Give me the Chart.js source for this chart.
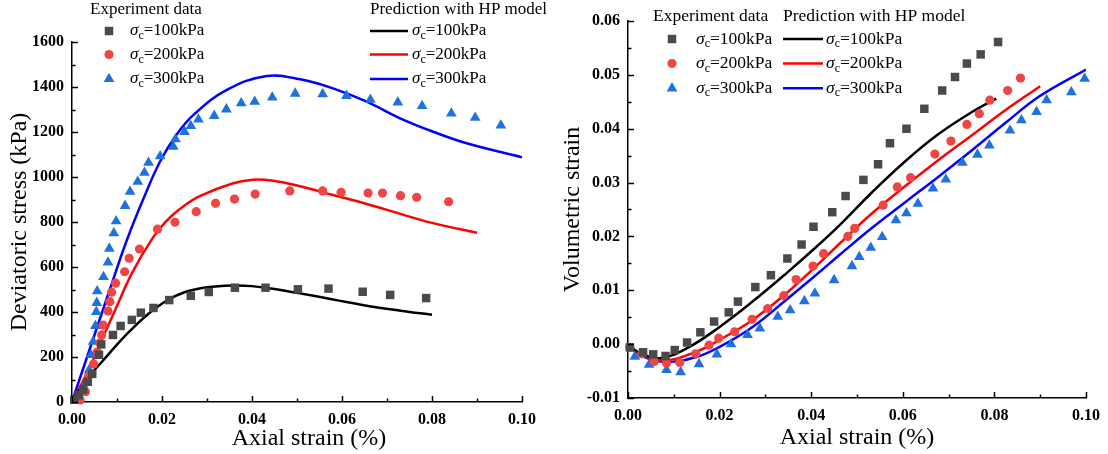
<!DOCTYPE html>
<html>
<head>
<meta charset="utf-8">
<script src="https://cdn.jsdelivr.net/npm/chart.js@4.4.1/dist/chart.umd.min.js"></script>
<style>
  body { margin: 0; background: #fff; width: 1108px; height: 454px; overflow: hidden; position: relative; }
  canvas { position: absolute; top: 0; }
  #stressChart { left: 0; }
  #volChart { left: 556px; }
</style>
</head>
<body>
<canvas id="stressChart" width="556" height="454"></canvas>
<canvas id="volChart" width="552" height="454"></canvas>
<script>
// ---- data ----
var pressures = ['100kPa', '200kPa', '300kPa'];

var strainTicks = [0, 0.02, 0.04, 0.06, 0.08, 0.10];
var strainTickLabels = ['0.00', '0.02', '0.04', '0.06', '0.08', '0.10'];
var stressTicks = [0, 200, 400, 600, 800, 1000, 1200, 1400, 1600];
var stressTickLabels = ['0', '200', '400', '600', '800', '1000', '1200', '1400', '1600'];
var volTicks = [-0.01, 0, 0.01, 0.02, 0.03, 0.04, 0.05, 0.06];
var volTickLabels = ['-0.01', '0.00', '0.01', '0.02', '0.03', '0.04', '0.05', '0.06'];

// deviatoric stress, experiment
var devStrain100 = [0.0005, 0.0015, 0.0025, 0.0035, 0.0045, 0.0060, 0.0065, 0.0091, 0.0108, 0.0133, 0.0153, 0.0181, 0.0216, 0.0264, 0.0304, 0.0362, 0.0430, 0.0502, 0.0570, 0.0646, 0.0707, 0.0787];
var devStress100 = [10, 30, 55, 90, 125, 210, 256, 298, 338, 365, 397, 418, 453, 472, 489, 508, 508, 501, 504, 490, 476, 462];
var devStrain200 = [0.0018, 0.0030, 0.0037, 0.0048, 0.0056, 0.0062, 0.0066, 0.0069, 0.0080, 0.0084, 0.0088, 0.0097, 0.0117, 0.0127, 0.0150, 0.0190, 0.0229, 0.0276, 0.0319, 0.0361, 0.0407, 0.0484, 0.0557, 0.0598, 0.0658, 0.0690, 0.0730, 0.0766, 0.0837];
var devStress200 = [9, 46, 116, 169, 222, 262, 298, 342, 404, 446, 488, 528, 579, 639, 680, 768, 799, 846, 883, 902, 924, 938, 938, 932, 929, 929, 917, 910, 890];
var devStrain300 = [0.0011, 0.0024, 0.0031, 0.0038, 0.0042, 0.0047, 0.0052, 0.0054, 0.0055, 0.0056, 0.0070, 0.0080, 0.0083, 0.0093, 0.0098, 0.0118, 0.0129, 0.0146, 0.0161, 0.0170, 0.0196, 0.0225, 0.0230, 0.0250, 0.0264, 0.0281, 0.0316, 0.0343, 0.0376, 0.0406, 0.0445, 0.0496, 0.0557, 0.0610, 0.0663, 0.0724, 0.0778, 0.0843, 0.0896, 0.0953];
var devStress300 = [6, 46, 86, 142, 209, 268, 338, 401, 441, 493, 556, 620, 682, 750, 804, 872, 935, 979, 1019, 1064, 1093, 1135, 1168, 1201, 1227, 1256, 1272, 1301, 1328, 1335, 1354, 1371, 1368, 1361, 1344, 1332, 1316, 1283, 1264, 1229];

// deviatoric stress, HP model
var predStrain100 = [0, 0.002, 0.004, 0.0067, 0.010, 0.013, 0.017, 0.021, 0.025, 0.030, 0.0358, 0.040, 0.045, 0.050, 0.058, 0.0655, 0.073, 0.080];
var predStress100 = [0, 65, 120, 180, 255, 318, 392, 450, 488, 510, 518, 515, 502, 485, 456, 428, 406, 388];
var predStrain200 = [0, 0.002, 0.0044, 0.0067, 0.0096, 0.0133, 0.0178, 0.021, 0.025, 0.0284, 0.0358, 0.0403, 0.045, 0.050, 0.058, 0.0655, 0.073, 0.080, 0.090];
var predStress200 = [0, 75, 175, 280, 409, 572, 725, 805, 873, 915, 972, 988, 982, 962, 920, 880, 836, 796, 752];
var predStrain300 = [0, 0.002, 0.0047, 0.0084, 0.0122, 0.0158, 0.0196, 0.0233, 0.027, 0.0344, 0.0433, 0.0507, 0.058, 0.0655, 0.0729, 0.0803, 0.0877, 0.100];
var predStress300 = [0, 120, 280, 500, 720, 900, 1070, 1190, 1276, 1387, 1449, 1434, 1394, 1335, 1261, 1201, 1150, 1088];

// volumetric strain, experiment
var volStrain100 = [0.0004, 0.0033, 0.0055, 0.0082, 0.0102, 0.0129, 0.0158, 0.0188, 0.0220, 0.0240, 0.0278, 0.0312, 0.0348, 0.0379, 0.0405, 0.0446, 0.0475, 0.0514, 0.0546, 0.0572, 0.0608, 0.0647, 0.0686, 0.0714, 0.0740, 0.0770, 0.0808];
var volValue100 = [-0.0006, -0.0015, -0.0019, -0.0022, -0.0011, 0.0003, 0.0022, 0.0042, 0.0059, 0.0079, 0.0106, 0.0128, 0.0159, 0.0185, 0.0218, 0.0245, 0.0275, 0.0305, 0.0334, 0.0373, 0.0400, 0.0437, 0.0471, 0.0496, 0.0521, 0.0538, 0.0561];
var volStrain200 = [0.0004, 0.0030, 0.0057, 0.0084, 0.0113, 0.0148, 0.0177, 0.0198, 0.0233, 0.0271, 0.0305, 0.0340, 0.0367, 0.0404, 0.0427, 0.0480, 0.0495, 0.0557, 0.0588, 0.0617, 0.0670, 0.0705, 0.0740, 0.0767, 0.0790, 0.0829, 0.0857];
var volValue200 = [-0.0006, -0.0018, -0.0032, -0.0035, -0.0034, -0.0018, -0.0002, 0.0011, 0.0023, 0.0046, 0.0066, 0.0090, 0.0120, 0.0145, 0.0168, 0.0200, 0.0215, 0.0258, 0.0292, 0.0309, 0.0353, 0.0377, 0.0408, 0.0428, 0.0453, 0.0471, 0.0494];
var volStrain300 = [0.0015, 0.0046, 0.0084, 0.0115, 0.0155, 0.0194, 0.0225, 0.0261, 0.0288, 0.0327, 0.0354, 0.0385, 0.0408, 0.0450, 0.0489, 0.0505, 0.0530, 0.0555, 0.0585, 0.0608, 0.0633, 0.0666, 0.0694, 0.0730, 0.0763, 0.0789, 0.0834, 0.0859, 0.0892, 0.0914, 0.0968, 0.0997];
var volValue300 = [-0.0023, -0.0038, -0.0048, -0.0052, -0.0037, -0.0019, 0.0000, 0.0017, 0.0029, 0.0051, 0.0063, 0.0080, 0.0094, 0.0119, 0.0145, 0.0162, 0.0179, 0.0199, 0.0230, 0.0243, 0.0261, 0.0289, 0.0306, 0.0337, 0.0352, 0.0369, 0.0397, 0.0416, 0.0431, 0.0453, 0.0468, 0.0493];

// volumetric strain, HP model
var predVolStrain100 = [0, 0.003, 0.007, 0.0128, 0.020, 0.0272, 0.0345, 0.0417, 0.0461, 0.0533, 0.0606, 0.0678, 0.0751, 0.0804];
var predVol100 = [-0.0002, -0.0018, -0.0026, -0.0008, 0.0032, 0.0079, 0.0131, 0.0185, 0.0220, 0.0282, 0.0340, 0.0390, 0.0431, 0.0456];
var predVolStrain200 = [0, 0.003, 0.0084, 0.0149, 0.020, 0.0272, 0.0345, 0.0417, 0.0461, 0.0533, 0.0606, 0.0678, 0.0751, 0.0823, 0.090];
var predVol200 = [-0.0003, -0.0021, -0.0030, -0.0014, 0.0008, 0.0045, 0.0094, 0.0150, 0.0186, 0.0243, 0.0294, 0.0342, 0.0388, 0.0434, 0.0479];
var predVolStrain300 = [0, 0.003, 0.0084, 0.0149, 0.020, 0.0272, 0.0345, 0.0417, 0.0461, 0.0533, 0.0606, 0.0678, 0.0751, 0.0823, 0.0896, 0.100];
var predVol300 = [-0.0003, -0.0022, -0.0033, -0.0024, -0.0005, 0.0032, 0.0082, 0.0133, 0.0165, 0.0216, 0.0264, 0.0311, 0.0360, 0.0410, 0.0459, 0.0510];

// ---- styling ----
var SERIF = '"Liberation Serif", "Times New Roman", serif';
var markerColors = ['#4a4a4a', '#ef4545', '#1f72dd'];
var markerStyles = ['rect', 'circle', 'triangle'];
var markerRadius = [6, 4.6, 6.2];
var lineColors = ['#000000', '#ff0000', '#0000ff'];

function toPoints(xs, ys) {
  return xs.map(function(x, i) { return {x: x, y: ys[i]}; });
}

function markerSet(xs, ys, i) {
  return {
    data: toPoints(xs, ys),
    showLine: false,
    pointStyle: markerStyles[i],
    pointRadius: markerRadius[i],
    pointBackgroundColor: markerColors[i],
    pointBorderColor: markerColors[i],
    pointBorderWidth: 0,
    clip: false
  };
}

function lineSet(xs, ys, i) {
  return {
    data: toPoints(xs, ys),
    showLine: true,
    borderColor: lineColors[i],
    borderWidth: 2.5,
    pointRadius: 0,
    tension: 0.4,
    fill: false
  };
}

function drawMarker(ctx, style, r, x, y, color) {
  ctx.fillStyle = color;
  ctx.beginPath();
  if (style === 'rect') {
    var s = Math.SQRT1_2 * r;
    ctx.rect(x - s, y - s, 2 * s, 2 * s);
  } else if (style === 'circle') {
    ctx.arc(x, y, r, 0, Math.PI * 2);
  } else {
    ctx.moveTo(x, y - r);
    ctx.lineTo(x + r * Math.sin(2 * Math.PI / 3), y - r * Math.cos(2 * Math.PI / 3));
    ctx.lineTo(x + r * Math.sin(4 * Math.PI / 3), y - r * Math.cos(4 * Math.PI / 3));
    ctx.closePath();
  }
  ctx.fill();
}

function drawSigma(ctx, x, y, rest, size) {
  ctx.textAlign = 'left';
  ctx.textBaseline = 'middle';
  ctx.fillStyle = '#000';
  ctx.font = 'italic ' + size + 'px ' + SERIF;
  ctx.fillText('σ', x, y);
  x += ctx.measureText('σ').width;
  ctx.font = Math.round(size * 0.7) + 'px ' + SERIF;
  ctx.fillText('c', x, y + 5);
  x += ctx.measureText('c').width;
  ctx.font = size + 'px ' + SERIF;
  ctx.fillText('=' + rest, x, y);
}

// two-column legend: experiment markers and model lines
var pairLegend = {
  id: 'pairLegend',
  afterDraw: function(chart, args, o) {
    var ctx = chart.ctx;
    ctx.save();
    ctx.fillStyle = '#000';
    ctx.font = o.size + 'px ' + SERIF;
    ctx.textBaseline = 'middle';
    ctx.textAlign = 'left';
    ctx.fillText('Experiment data', o.expX, o.headY);
    ctx.fillText('Prediction with HP model', o.predX, o.headY);
    pressures.forEach(function(p, i) {
      var y = o.rows[i];
      drawMarker(ctx, markerStyles[i], markerRadius[i], o.markX, y, markerColors[i]);
      drawSigma(ctx, o.expTextX, y, p, o.size);
      ctx.strokeStyle = lineColors[i];
      ctx.lineWidth = 2.5;
      ctx.beginPath();
      ctx.moveTo(o.predX, y);
      ctx.lineTo(o.lineEnd, y);
      ctx.stroke();
      drawSigma(ctx, o.predTextX, y, p, o.size);
    });
    ctx.restore();
  }
};

// inward major/minor tick marks on the two drawn axes
var innerTicks = {
  id: 'innerTicks',
  afterDraw: function(chart) {
    var ctx = chart.ctx, area = chart.chartArea;
    ctx.save();
    ctx.strokeStyle = '#000';
    ctx.lineWidth = 1.5;
    ['x', 'y'].forEach(function(id) {
      var sc = chart.scales[id];
      var vals = sc.ticks.map(function(t) { return t.value; });
      var all = [];
      vals.forEach(function(v, i) {
        all.push([v, 6]);
        if (i < vals.length - 1) all.push([(v + vals[i + 1]) / 2, 3.5]);
      });
      all.forEach(function(t) {
        var p = Math.round(sc.getPixelForValue(t[0])) + 0.5;
        ctx.beginPath();
        if (id === 'x') { ctx.moveTo(p, area.bottom); ctx.lineTo(p, area.bottom - t[1]); }
        else { ctx.moveTo(area.left, p); ctx.lineTo(area.left + t[1], p); }
        ctx.stroke();
      });
    });
    ctx.restore();
  }
};

function axis(ticks, labels, min, max, title, fit, titlePad) {
  return {
    type: 'linear',
    min: min,
    max: max,
    afterBuildTicks: function(s) { s.ticks = ticks.map(function(v) { return {value: v}; }); },
    afterFit: fit,
    grid: { display: false, drawTicks: false },
    border: { display: true, color: '#000', width: 1.5 },
    ticks: {
      autoSkip: false,
      maxRotation: 0,
      padding: 8,
      color: '#000',
      font: { family: SERIF, size: 16, weight: 'bold' },
      callback: function(v, i) { return labels[i]; }
    },
    title: {
      display: true,
      text: title,
      color: '#000',
      font: { family: SERIF, size: 24 },
      padding: titlePad
    }
  };
}

function baseOptions(pad, xScale, yScale, legendPos) {
  return {
    responsive: false,
    animation: false,
    devicePixelRatio: 1,
    events: [],
    layout: { padding: pad },
    scales: { x: xScale, y: yScale },
    plugins: {
      legend: { display: false },
      tooltip: { enabled: false },
      pairLegend: legendPos
    }
  };
}

new Chart(document.getElementById('stressChart'), {
  type: 'scatter',
  data: {
    datasets: [
      markerSet(devStrain100, devStress100, 0),
      markerSet(devStrain200, devStress200, 1),
      markerSet(devStrain300, devStress300, 2),
      lineSet(predStrain100, predStress100, 0),
      lineSet(predStrain200, predStress200, 1),
      lineSet(predStrain300, predStress300, 2)
    ]
  },
  options: baseOptions(
    { top: 42, right: 34, bottom: 0, left: 0 },
    axis(strainTicks, strainTickLabels, 0, 0.10, '    Axial strain (%)', function(s) { s.height = 52; }, { top: 0, bottom: 1 }),
    axis(stressTicks, stressTickLabels, 0, 1600, 'Deviatoric stress (kPa)', function(s) { s.width = 72; }, { top: 5, bottom: 0 }),
    { size: 17, expX: 90, predX: 370, headY: 10, rows: [31, 54.5, 79], markX: 109, expTextX: 130, lineEnd: 408, predTextX: 412 }
  ),
  plugins: [innerTicks, pairLegend]
});

new Chart(document.getElementById('volChart'), {
  type: 'scatter',
  data: {
    datasets: [
      markerSet(volStrain100, volValue100, 0),
      markerSet(volStrain200, volValue200, 1),
      markerSet(volStrain300, volValue300, 2),
      lineSet(predVolStrain100, predVol100, 0),
      lineSet(predVolStrain200, predVol200, 1),
      lineSet(predVolStrain300, predVol300, 2)
    ]
  },
  options: baseOptions(
    { top: 21, right: 20, bottom: 0, left: 0 },
    axis(strainTicks, strainTickLabels, 0, 0.10, 'Axial strain (%)', function(s) { s.height = 56; }, { top: 0, bottom: 2 }),
    axis(volTicks, volTickLabels, -0.01, 0.06, 'Volumetric strain', function(s) { s.width = 72; }, { top: 2, bottom: 0 }),
    { size: 17.5, expX: 97, predX: 227, headY: 16, rows: [39, 63.5, 88.3], markX: 116, expTextX: 140, lineEnd: 267, predTextX: 270 }
  ),
  plugins: [innerTicks, pairLegend]
});
</script>
</body>
</html>
